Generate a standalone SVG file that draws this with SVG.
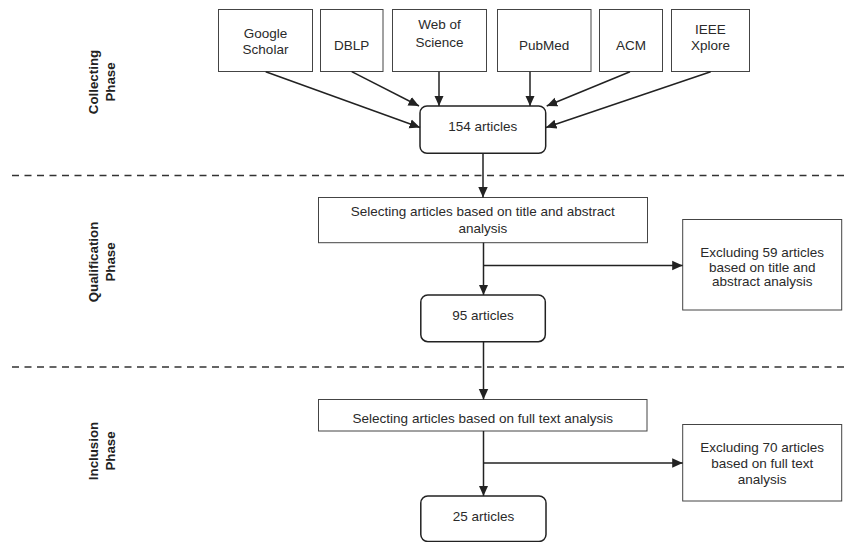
<svg xmlns="http://www.w3.org/2000/svg" width="849" height="542" viewBox="0 0 849 542">
<style>
.box{fill:#fff;stroke:#444;stroke-width:1}
.rbox{fill:#fff;stroke:#222;stroke-width:1.5}
.t{font-family:"Liberation Sans",Arial,sans-serif;font-size:13.5px;fill:#2a2a2a;text-anchor:middle}
.ph{font-family:"Liberation Sans",Arial,sans-serif;font-size:13.3px;font-weight:bold;fill:#222;text-anchor:middle}
.c{stroke:#222;stroke-width:1.5;fill:none;marker-end:url(#ah)}
.dash{stroke:#333;stroke-width:1.5;stroke-dasharray:7 5.5;fill:none}
</style>
<defs>
<marker id="ah" viewBox="0 0 10 10" refX="10" refY="5" markerWidth="7" markerHeight="7" markerUnits="strokeWidth" orient="auto">
<path d="M0,0.5 L10,5 L0,9.5 z" fill="#222"/>
</marker>
</defs>
<rect width="849" height="542" fill="#fff"/>
<g id="phases">
<line class="dash" x1="12" y1="175.5" x2="849" y2="175.5"/>
<line class="dash" x1="12" y1="367" x2="849" y2="367"/>
<text class="ph" transform="translate(97.5,82) rotate(-90)"><tspan x="0" y="0">Collecting</tspan><tspan x="0" y="17.5">Phase</tspan></text>
<text class="ph" transform="translate(97.5,262) rotate(-90)"><tspan x="0" y="0">Qualification</tspan><tspan x="0" y="17.5">Phase</tspan></text>
<text class="ph" transform="translate(97.5,451) rotate(-90)"><tspan x="0" y="0">Inclusion</tspan><tspan x="0" y="17.5">Phase</tspan></text>
</g>
<g id="google"><rect class="box" x="218.5" y="9.5" width="94" height="62"/><text class="t" x="265.5" y="38">Google</text><text class="t" x="265.5" y="54">Scholar</text></g>
<g id="dblp"><rect class="box" x="320.5" y="9.5" width="62.5" height="62"/><text class="t" x="351.7" y="50">DBLP</text></g>
<g id="wos"><rect class="box" x="392.5" y="9.5" width="94" height="62"/><text class="t" x="439.5" y="29">Web of</text><text class="t" x="439.5" y="46.5">Science</text></g>
<g id="pubmed"><rect class="box" x="497.5" y="9.5" width="93.5" height="62"/><text class="t" x="544.2" y="50">PubMed</text></g>
<g id="acm"><rect class="box" x="599.5" y="9.5" width="63" height="62"/><text class="t" x="631" y="50">ACM</text></g>
<g id="ieee"><rect class="box" x="671.5" y="9.5" width="78" height="62"/><text class="t" x="710.5" y="34">IEEE</text><text class="t" x="710.5" y="50">Xplore</text></g>
<g id="n154"><rect class="rbox" x="420" y="106" width="125.7" height="47.3" rx="7"/><text class="t" x="482.8" y="131.3">154 articles</text></g>
<g id="sel1"><rect class="box" x="318.5" y="197.5" width="329" height="45.2"/><text class="t" x="482.8" y="216.4">Selecting articles based on title and abstract</text><text class="t" x="482.8" y="233">analysis</text></g>
<g id="exc1"><rect class="box" x="682.7" y="219.5" width="159" height="90.5"/><text class="t" x="762.2" y="257">Excluding 59 articles</text><text class="t" x="762.2" y="271.7">based on title and</text><text class="t" x="762.2" y="286.4">abstract analysis</text></g>
<g id="n95"><rect class="rbox" x="420.8" y="295" width="124.5" height="46.7" rx="7"/><text class="t" x="483" y="319.6">95 articles</text></g>
<g id="sel2"><rect class="box" x="318.5" y="399.5" width="328.5" height="31.5"/><text class="t" x="482.8" y="423">Selecting articles based on full text analysis</text></g>
<g id="exc2"><rect class="box" x="682.7" y="424.5" width="159" height="76.5"/><text class="t" x="762.2" y="452">Excluding 70 articles</text><text class="t" x="762.2" y="468">based on full text</text><text class="t" x="762.2" y="484">analysis</text></g>
<g id="n25"><rect class="rbox" x="420.8" y="496" width="125.2" height="45.5" rx="7"/><text class="t" x="483.4" y="520.5">25 articles</text></g>
<g id="connectors">
<line class="c" x1="265.7" y1="71.7" x2="420" y2="127.5"/>
<line class="c" x1="351.7" y1="71.7" x2="419" y2="106"/>
<line class="c" x1="439" y1="71.7" x2="439" y2="106"/>
<line class="c" x1="530" y1="71.7" x2="530" y2="106"/>
<line class="c" x1="630" y1="71.7" x2="546.7" y2="106"/>
<line class="c" x1="710.7" y1="71.7" x2="546" y2="127.5"/>
<line class="c" x1="483" y1="153.3" x2="483" y2="197.5"/>
<line class="c" x1="483.5" y1="242.7" x2="483.5" y2="295"/>
<line class="c" x1="483.5" y1="265.5" x2="682.7" y2="265.5"/>
<line class="c" x1="483.5" y1="341.7" x2="483.5" y2="399.5"/>
<line class="c" x1="483.5" y1="431" x2="483.5" y2="496"/>
<line class="c" x1="483.5" y1="463" x2="682.7" y2="463"/>
</g>
</svg>
